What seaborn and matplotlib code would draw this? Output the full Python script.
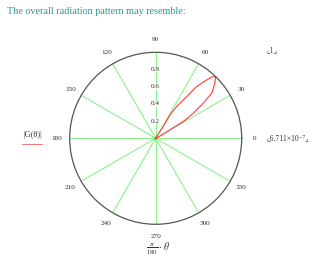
import numpy as np
import matplotlib
matplotlib.use("Agg")
import matplotlib.pyplot as plt
import seaborn as sns
import pandas as pd

# ---- data ----
theta_deg = [0, 15, 25, 29, 30.7, 31.3, 33.8, 36.5, 38.9, 43, 45.7, 47.5, 48.9, 51.6, 53.4,
             56.6, 58.7, 57.2, 59, 63, 70, 90, 120, 180, 240, 300, 360]
gain = [0.0, 0.01, 0.03, 0.10, 0.19, 0.38, 0.53, 0.69, 0.84, 0.94, 1.0, 0.97, 0.90, 0.77, 0.60,
        0.44, 0.32, 0.16, 0.06, 0.02, 0.01, 0.0, 0.01, 0.0, 0.01, 0.0, 0.0]
angle_ticks = [0, 30, 60, 90, 120, 150, 180, 210, 240, 270, 300, 330]
angle_labels = [str(a) for a in angle_ticks]
r_ticks = [0.2, 0.4, 0.6, 0.8]
r_labels = ["0.2", "0.4", "0.6", "0.8"]
r_max_label = "1"
r_min_label = "6.711\u00d710\u207b\u2077"
title = "The overall radiation pattern may resemble:"
y_label = "|G(\u03b8)|"

sns.set_theme(style="white")
plt.rcParams["font.family"] = ["Liberation Serif", "DejaVu Serif"]
plt.rcParams["mathtext.fontset"] = "stix"

W, H = 330, 270
fig = plt.figure(figsize=(W / 100, H / 100), dpi=100)
fig.patch.set_facecolor("white")

cx, cy, R = 155.7, 138.3, 86.0
ax = fig.add_axes([(cx - R) / W, (H - cy - R) / H, 2 * R / W, 2 * R / H], projection="polar")
ax.set_facecolor("white")

df = pd.DataFrame({"theta": np.deg2rad(theta_deg), "r": gain})
sns.lineplot(data=df, x="theta", y="r", sort=False, estimator=None, ax=ax,
             color="#ff3b3b", lw=0.8, legend=False)
ax.set_ylim(0, 1)
ax.set_xlabel("")
ax.set_ylabel("")

ax.set_xticks(np.deg2rad(angle_ticks))
ax.set_xticklabels(angle_labels, fontsize=5.2, color="#333333")
ax.tick_params(axis="x", pad=-4)
ax.xaxis.grid(True, color="#8cf28c", lw=0.8)
ax.set_yticks([])
ax.yaxis.grid(False)
ax.spines["polar"].set_color("#555555")
ax.spines["polar"].set_linewidth(0.9)

for rv, rl in zip(r_ticks, r_labels):
    ax.text(np.pi / 2, rv, rl, ha="center", va="center", fontsize=5.2, color="#333333",
            bbox=dict(facecolor="white", edgecolor="none", pad=0.3), zorder=5)

# texts around
fig.text(7 / W, 1 - 12 / H, title, fontsize=7.3, color="#2f9696", ha="left", va="center")
fig.text(33 / W, 1 - 135 / H, y_label, fontsize=6, color="#333333", ha="center", va="center")
fig.add_artist(plt.Line2D([22 / W, 42 / W], [1 - 143.5 / H, 1 - 143.5 / H], color="#f07a7a", lw=0.8))
fig.text(272 / W, 1 - 50 / H, "\u231e" + r_max_label + "\u231f", fontsize=5.5, color="#333333",
         ha="center", va="center", family=["Liberation Serif", "DejaVu Sans"])
fig.text(288 / W, 1 - 138 / H, "\u231e" + r_min_label + "\u231f", fontsize=5.5, color="#333333",
         ha="center", va="center", family=["Liberation Serif", "DejaVu Sans"])
fig.text(158 / W, 1 - 249 / H, r"$\frac{\pi}{180}\cdot\theta$", fontsize=7, color="#333333",
         ha="center", va="center")

fig.savefig("out.png", dpi=100, facecolor="white")
